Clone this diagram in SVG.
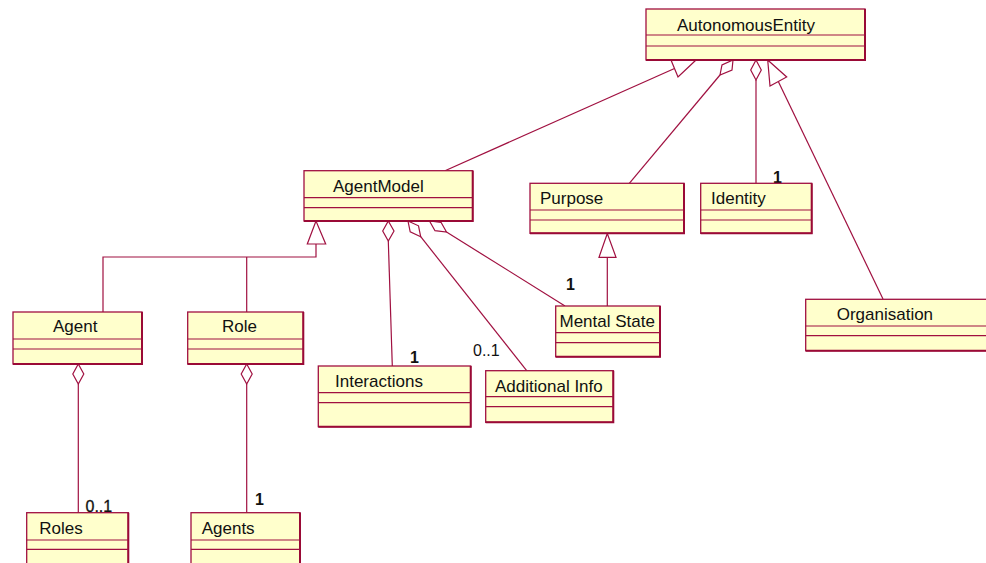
<svg xmlns="http://www.w3.org/2000/svg" width="986" height="563" viewBox="0 0 986 563">
  <style>
    .box { fill: #FFFFCC; stroke: #A01040; stroke-width: 1.3; }
    .edge { stroke: #9A0A36; stroke-width: 2; fill: none; }
    .div { stroke: #A01040; stroke-width: 1.2; }
    .name { font-family: "Liberation Sans", Arial, sans-serif; font-size: 17px; fill: #111; }
    .mult { font-family: "Liberation Sans", Arial, sans-serif; font-size: 16px; fill: #111; }
    .bold { font-weight: bold; }
    .conn line, .conn polyline { stroke: #A01040; stroke-width: 1.2; fill: none; }
    .conn polygon { stroke: #A01040; stroke-width: 1.2; fill: #FFFFFF; }
  </style>

  <rect width="986" height="563" fill="#FFFFFF"/>

  <!-- connectors -->
  <g id="connectors" class="conn">
    <!-- AgentModel generalizes AutonomousEntity -->
    <line x1="674.5" y1="68.5" x2="445" y2="170.7"/>
    <polygon points="696,60 671,60 678,77"/>
    <!-- Purpose aggregation -->
    <line x1="720" y1="75" x2="629.3" y2="183.3"/>
    <polygon points="733,60 732,70 720,75 722,65"/>
    <!-- Identity aggregation -->
    <line x1="756" y1="80" x2="756" y2="183"/>
    <polygon points="756,60 761.3,70 756,80 750.7,70"/>
    <!-- Organisation generalizes AutonomousEntity -->
    <line x1="778.3" y1="81.5" x2="883" y2="299"/>
    <polygon points="767.7,60 770,86 786.7,77"/>
    <!-- Mental State generalizes Purpose -->
    <line x1="607.3" y1="257.3" x2="607.3" y2="306"/>
    <polygon points="607.3,233.5 599,257.3 616,257.3"/>
    <!-- Agent / Role generalize AgentModel -->
    <polyline points="316,244 316,257 103,257 103,312"/>
    <line x1="246.7" y1="257" x2="246.7" y2="312"/>
    <polygon points="316,221 307.3,244 325.7,244"/>
    <!-- AgentModel aggregations -->
    <line x1="388.3" y1="241" x2="392.3" y2="366"/>
    <polygon points="388.3,221 394,231 388.3,241 382.7,231"/>
    <line x1="420.7" y1="236.7" x2="526.7" y2="370.7"/>
    <polygon points="408,221 418.5,225.8 420.7,236.7 410.2,231.9"/>
    <line x1="446.5" y1="232" x2="565" y2="306"/>
    <polygon points="429.5,221 441,222.3 446.5,232 435,230.7"/>
    <!-- Agent / Role aggregations -->
    <line x1="78.3" y1="384" x2="78.3" y2="512.7"/>
    <polygon points="78.3,364 83.8,374 78.3,384 72.8,374"/>
    <line x1="246.7" y1="384" x2="246.7" y2="512.7"/>
    <polygon points="246.7,364 252.2,374 246.7,384 241.2,374"/>
  </g>

  <!-- multiplicities -->
  <g id="labels">
    <text class="mult bold" x="773" y="182.5">1</text>
    <text class="mult bold" x="566" y="289.5">1</text>
    <text class="mult bold" x="410" y="362.5">1</text>
    <text class="mult" x="473" y="356">0..1</text>
    <text class="mult" x="85.5" y="511.5" stroke="#111" stroke-width="0.3">0..1</text>
    <text class="mult bold" x="255" y="505">1</text>
  </g>

  <!-- classes -->
  <g id="AutonomousEntity">
    <rect class="box" x="646" y="9" width="219" height="51"/>
    <polyline class="edge" points="865,9 865,60 646,60"/>
    <line class="div" x1="646" y1="35" x2="865" y2="35"/>
    <line class="div" x1="646" y1="46" x2="865" y2="46"/>
    <text class="name" x="677" y="31">AutonomousEntity</text>
  </g>

  <g id="AgentModel">
    <rect class="box" x="304" y="170.7" width="168.7" height="50.3"/>
    <polyline class="edge" points="472.7,170.7 472.7,221 304,221"/>
    <line class="div" x1="304" y1="197.7" x2="472.7" y2="197.7"/>
    <line class="div" x1="304" y1="207.7" x2="472.7" y2="207.7"/>
    <text class="name" x="333" y="192">AgentModel</text>
  </g>

  <g id="Purpose">
    <rect class="box" x="530" y="183.3" width="154" height="50"/>
    <polyline class="edge" points="684,183.3 684,233.3 530,233.3"/>
    <line class="div" x1="530" y1="210" x2="684" y2="210"/>
    <line class="div" x1="530" y1="220" x2="684" y2="220"/>
    <text class="name" x="540" y="204">Purpose</text>
  </g>

  <g id="Identity">
    <rect class="box" x="700.7" y="183.3" width="111" height="50"/>
    <polyline class="edge" points="811.7,183.3 811.7,233.3 700.7,233.3"/>
    <line class="div" x1="700.7" y1="210" x2="811.7" y2="210"/>
    <line class="div" x1="700.7" y1="220" x2="811.7" y2="220"/>
    <text class="name" x="711" y="204">Identity</text>
  </g>

  <g id="Organisation">
    <rect class="box" x="805.7" y="299.3" width="190" height="51.4"/>
    <line class="edge" x1="805.7" y1="350.7" x2="986" y2="350.7"/>
    <line class="div" x1="805.7" y1="326" x2="986" y2="326"/>
    <line class="div" x1="805.7" y1="335.7" x2="986" y2="335.7"/>
    <text class="name" x="836.7" y="319.5">Organisation</text>
  </g>

  <g id="MentalState">
    <rect class="box" x="555.7" y="306" width="104.3" height="50.7"/>
    <polyline class="edge" points="660,306 660,356.7 555.7,356.7"/>
    <line class="div" x1="555.7" y1="332.7" x2="660" y2="332.7"/>
    <line class="div" x1="555.7" y1="342.7" x2="660" y2="342.7"/>
    <text class="name" x="559.5" y="327">Mental State</text>
  </g>

  <g id="Agent">
    <rect class="box" x="13" y="312" width="129" height="52"/>
    <polyline class="edge" points="142,312 142,364 13,364"/>
    <line class="div" x1="13" y1="339" x2="142" y2="339"/>
    <line class="div" x1="13" y1="349" x2="142" y2="349"/>
    <text class="name" x="53" y="332">Agent</text>
  </g>

  <g id="Role">
    <rect class="box" x="187.7" y="312" width="115.6" height="52"/>
    <polyline class="edge" points="303.3,312 303.3,364 187.7,364"/>
    <line class="div" x1="187.7" y1="339" x2="303.3" y2="339"/>
    <line class="div" x1="187.7" y1="349" x2="303.3" y2="349"/>
    <text class="name" x="222" y="332">Role</text>
  </g>

  <g id="Interactions">
    <rect class="box" x="318.3" y="366" width="152.4" height="60.7"/>
    <polyline class="edge" points="470.7,366 470.7,426.7 318.3,426.7"/>
    <line class="div" x1="318.3" y1="392.7" x2="470.7" y2="392.7"/>
    <line class="div" x1="318.3" y1="402.7" x2="470.7" y2="402.7"/>
    <text class="name" x="335" y="387">Interactions</text>
  </g>

  <g id="AdditionalInfo">
    <rect class="box" x="485.7" y="370.7" width="127.6" height="51.6"/>
    <polyline class="edge" points="613.3,370.7 613.3,422.3 485.7,422.3"/>
    <line class="div" x1="485.7" y1="396.7" x2="613.3" y2="396.7"/>
    <line class="div" x1="485.7" y1="406.7" x2="613.3" y2="406.7"/>
    <text class="name" x="495" y="391.5">Additional Info</text>
  </g>

  <g id="Roles">
    <rect class="box" x="26.7" y="512.7" width="101.6" height="60"/>
    <line class="edge" x1="128.3" y1="512.7" x2="128.3" y2="563"/>
    <line class="div" x1="26.7" y1="540" x2="128.3" y2="540"/>
    <line class="div" x1="26.7" y1="549.3" x2="128.3" y2="549.3"/>
    <text class="name" x="39.3" y="534">Roles</text>
  </g>

  <g id="Agents">
    <rect class="box" x="191" y="512.7" width="109" height="60"/>
    <line class="edge" x1="300" y1="512.7" x2="300" y2="563"/>
    <line class="div" x1="191" y1="540" x2="300" y2="540"/>
    <line class="div" x1="191" y1="549.3" x2="300" y2="549.3"/>
    <text class="name" x="201.7" y="534">Agents</text>
  </g>
</svg>
